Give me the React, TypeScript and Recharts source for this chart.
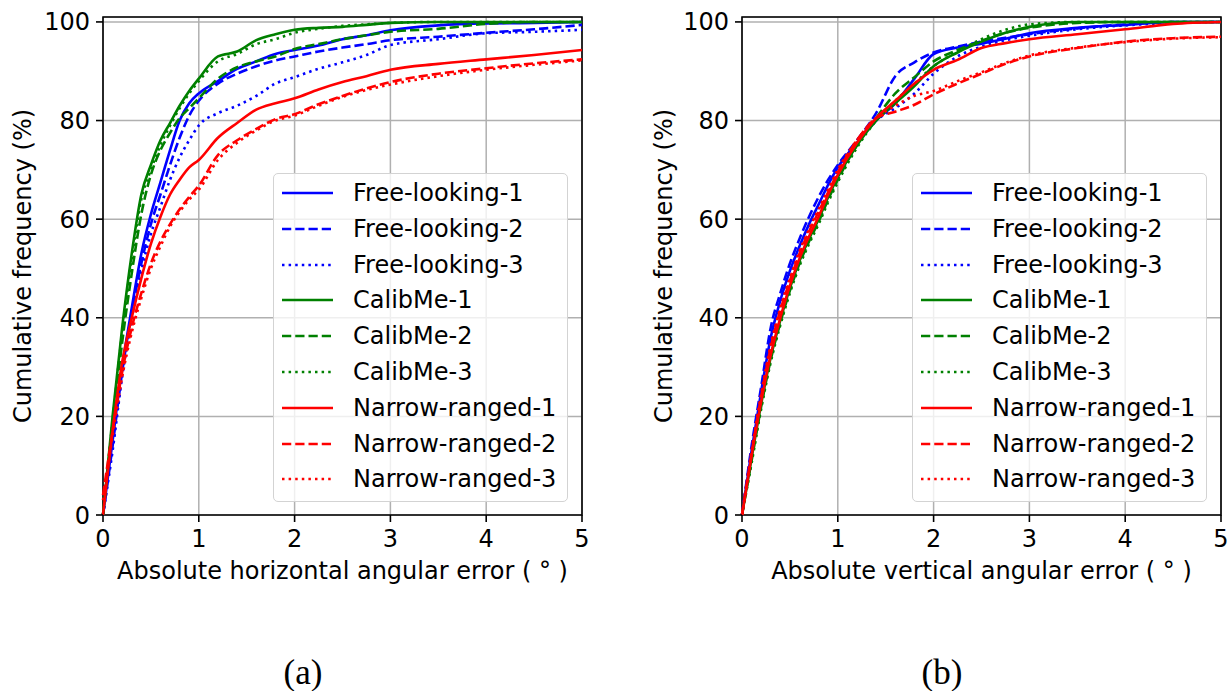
import React from 'react';
import { CartesianGrid, Line, LineChart, ReferenceArea, XAxis, YAxis } from 'recharts';

const FONT = '"DejaVu Sans", sans-serif';

// error sample points (degrees)
const ERR_X = [0, 0.1, 0.2, 0.3, 0.4, 0.5, 0.6, 0.7, 0.8, 0.9, 1.0, 1.2, 1.4, 1.6, 1.8, 2.0, 2.25, 2.5, 2.75, 3.0, 3.5, 4.0, 4.5, 5.0];
const X_TICKS = [0, 1, 2, 3, 4, 5];
const Y_TICKS = [0, 20, 40, 60, 80, 100];

// (a) horizontal error, cumulative %
const H_FREE_1 = [0, 15, 30, 42, 53, 61, 67.5, 74, 80, 83.5, 85.5, 88, 90.5, 92, 93.5, 94.3, 95.2, 96.5, 97.3, 98.3, 99.3, 99.7, 99.8, 100];
const H_FREE_2 = [0, 14, 29, 41, 51, 59, 65, 71, 76.5, 81, 84, 87.5, 89.5, 91, 92.2, 93, 94, 94.8, 95.5, 96.3, 97, 97.8, 98.5, 99.4];
const H_FREE_3 = [0, 13, 28, 40, 49.5, 57, 62.5, 68, 72.5, 76, 79, 81.5, 83, 85, 87.5, 88.8, 90.5, 91.8, 93.3, 95.3, 96.5, 97.7, 98, 98.4];
const H_CAL_1 = [0, 20, 38, 53, 65, 71, 76, 79.5, 83, 86, 88.5, 93, 94, 96.3, 97.5, 98.4, 98.8, 99, 99.4, 99.8, 100, 100, 100, 100];
const H_CAL_2 = [0, 18, 35, 49, 61, 69, 74, 77.5, 80.5, 82.5, 84.5, 88.5, 90.8, 92, 93, 94.5, 95.5, 96.5, 97.3, 98, 98.6, 99.6, 100, 100];
const H_CAL_3 = [0, 19, 37, 52, 64, 70, 75, 79, 82.5, 85.5, 88, 92, 93.5, 95.5, 96.5, 97.8, 98.6, 99.2, 99.5, 99.8, 100, 100, 100, 100];
const H_NAR_1 = [0, 17, 31, 40, 48, 55, 60.5, 65, 68, 70.5, 72, 76.5, 79.5, 82.2, 83.5, 84.5, 86.3, 87.8, 89, 90.3, 91.5, 92.4, 93.3, 94.3];
const H_NAR_2 = [4, 17, 29, 38, 45, 51, 55.5, 59, 62, 64.5, 66.8, 73, 76, 78.3, 80.3, 81.3, 83.3, 85, 86.5, 87.8, 89.5, 90.6, 91.6, 92.4];
const H_NAR_3 = [3, 16, 28, 37, 44, 50, 54.5, 58.5, 61.5, 64, 66, 72, 75.5, 78, 80, 81, 83, 84.8, 86.2, 87.3, 89, 90.3, 91.3, 92.2];

// (b) vertical error, cumulative %
const V_FREE_1 = [0, 13, 25, 36, 43.5, 49.5, 54.5, 59, 63, 67, 70.5, 75.5, 80, 83.5, 88.5, 93.5, 94.8, 95.6, 96.6, 97.7, 98.8, 99.4, 100, 100];
const V_FREE_2 = [0, 14, 26, 38, 45, 51, 56, 60.5, 64.5, 68, 71, 76, 81.5, 89, 91.8, 93.8, 95, 96, 96.8, 97.5, 98.7, 99.5, 100, 100];
const V_FREE_3 = [0, 13, 24.5, 35.5, 43, 49, 54, 58.5, 62.5, 66.5, 70, 75.5, 80, 82.5, 85.5, 89.5, 93, 95, 96.3, 97.2, 98.5, 99.3, 99.8, 100];
const V_CAL_1 = [0, 11.5, 22.5, 32, 39.5, 46, 51.5, 56, 60, 64.5, 68.5, 75, 80, 83.5, 87, 91, 93.8, 96, 97.8, 99, 100, 100, 100, 100];
const V_CAL_2 = [0, 11, 22, 31.5, 39, 45.5, 51, 55.5, 59.5, 64, 68, 75, 80.5, 85.5, 88.8, 92, 94.3, 96.2, 97.8, 98.8, 99.8, 100, 100, 100];
const V_CAL_3 = [0, 10.5, 21.5, 31, 38.5, 45, 50.5, 55, 59, 63.5, 67.5, 74.5, 80, 84, 87.5, 91, 94, 96.5, 98.4, 99.5, 100, 100, 100, 100];
const V_NAR_1 = [0, 12, 23, 32.5, 40, 46.5, 52, 56.5, 60.5, 65, 69, 75.5, 80.5, 84, 87.5, 90.3, 92.3, 94.7, 95.7, 96.5, 97.5, 98.5, 99.6, 100];
const V_NAR_2 = [0, 12.5, 24, 34, 41.5, 47.5, 53, 57.5, 61.5, 65.5, 69.5, 76, 80.5, 81.8, 83.2, 85.3, 87.5, 89.5, 91.5, 93, 94.7, 96, 96.7, 97];
const V_NAR_3 = [0, 13, 24.5, 34.5, 42, 48, 53.5, 58, 62, 66, 70, 76, 80.5, 83, 85, 86, 88, 89.8, 91.7, 93.2, 94.8, 95.9, 96.6, 96.9];

const DASHED = '9.25 4';
const DOTTED = '2.5 4.1';

const SERIES = [
  { key: 'free1', name: 'Free-looking-1', color: '#0000ff', dash: undefined },
  { key: 'free2', name: 'Free-looking-2', color: '#0000ff', dash: DASHED },
  { key: 'free3', name: 'Free-looking-3', color: '#0000ff', dash: DOTTED },
  { key: 'cal1', name: 'CalibMe-1', color: '#008000', dash: undefined },
  { key: 'cal2', name: 'CalibMe-2', color: '#008000', dash: DASHED },
  { key: 'cal3', name: 'CalibMe-3', color: '#008000', dash: DOTTED },
  { key: 'nar1', name: 'Narrow-ranged-1', color: '#ff0000', dash: undefined },
  { key: 'nar2', name: 'Narrow-ranged-2', color: '#ff0000', dash: DASHED },
  { key: 'nar3', name: 'Narrow-ranged-3', color: '#ff0000', dash: DOTTED },
];

const H_COLS = [H_FREE_1, H_FREE_2, H_FREE_3, H_CAL_1, H_CAL_2, H_CAL_3, H_NAR_1, H_NAR_2, H_NAR_3];
const V_COLS = [V_FREE_1, V_FREE_2, V_FREE_3, V_CAL_1, V_CAL_2, V_CAL_3, V_NAR_1, V_NAR_2, V_NAR_3];

function buildRows(cols: number[][]) {
  return ERR_X.map((x, i) => {
    const row: Record<string, number> = { x };
    SERIES.forEach((s, j) => {
      row[s.key] = cols[j][i];
    });
    return row;
  });
}

const H_ROWS = buildRows(H_COLS);
const V_ROWS = buildRows(V_COLS);

const PLOT_W = 479;
const CHART_W = 600;
const CHART_H = 600;
const tickStyle = { fill: '#000', fontSize: 24, fontFamily: FONT };

function LegendBox({ left }: { left: number }) {
  return (
    <div
      style={{
        position: 'absolute',
        left,
        top: 173,
        width: 295,
        height: 329,
        boxSizing: 'border-box',
        border: '1.3px solid #d3d3d3',
        borderRadius: 5,
        background: 'rgba(255,255,255,0.8)',
        fontFamily: FONT,
        fontSize: 24,
        color: '#000',
      }}
    >
      {SERIES.map((s, i) => (
        <div key={s.key} style={{ position: 'absolute', left: 0, top: 1 + i * 35.8, height: 36, display: 'flex', alignItems: 'center', whiteSpace: 'nowrap' }}>
          <svg width={79} height={36}>
            <line x1={8} x2={59} y1={18} y2={18} stroke={s.color} strokeWidth={2.6} strokeDasharray={s.dash} />
          </svg>
          <span>{s.name}</span>
        </div>
      ))}
    </div>
  );
}

function Panel({ rows, xLabel, left, axisWidth, labelOffset }: { rows: Record<string, number>[]; xLabel: string; left: number; axisWidth: number; labelOffset: number }) {
  return (
    <div style={{ position: 'absolute', left, top: 0, width: CHART_W, height: CHART_H }}>
      <LineChart
        width={CHART_W}
        height={CHART_H}
        data={rows}
        margin={{ top: 17, right: CHART_W - axisWidth - PLOT_W, bottom: 45, left: 0 }}
        style={{ fontFamily: FONT }}
      >
        <CartesianGrid stroke="#b0b0b0" strokeWidth={1.5} />
        <XAxis
          dataKey="x"
          type="number"
          domain={[0, 5]}
          ticks={X_TICKS}
          interval={0}
          tick={tickStyle}
          tickSize={7}
          tickMargin={8}
          tickLine={{ stroke: '#000', strokeWidth: 1.6 }}
          axisLine={false}
          height={40}
          label={{ value: xLabel, position: 'bottom', offset: 7, fill: '#000', fontSize: 24, fontFamily: FONT }}
        />
        <YAxis
          type="number"
          domain={[0, 101]}
          ticks={Y_TICKS}
          interval={0}
          width={axisWidth}
          tick={tickStyle}
          tickSize={7}
          tickMargin={6}
          tickLine={{ stroke: '#000', strokeWidth: 1.6 }}
          axisLine={false}
          label={{
            value: 'Cumulative frequency (%)',
            angle: -90,
            position: 'insideLeft',
            offset: labelOffset,
            fill: '#000',
            fontSize: 24,
            fontFamily: FONT,
            style: { textAnchor: 'middle' },
          }}
        />
        {SERIES.map((s) => (
          <Line
            key={s.key}
            dataKey={s.key}
            type="monotone"
            stroke={s.color}
            strokeWidth={2.6}
            strokeDasharray={s.dash}
            dot={false}
            activeDot={false}
            isAnimationActive={false}
          />
        ))}
        <ReferenceArea x1={0} x2={5} y1={0} y2={101} fill="none" fillOpacity={0} stroke="#000" strokeWidth={1.6} />
      </LineChart>
      <LegendBox left={axisWidth + 170} />
    </div>
  );
}

const captionStyle: React.CSSProperties = {
  position: 'absolute',
  top: 655,
  width: 100,
  textAlign: 'center',
  fontFamily: '"Liberation Serif", serif',
  fontSize: 35,
  lineHeight: '36px',
  color: '#000',
};

export default function App() {
  return (
    <div style={{ position: 'absolute', left: 0, top: 0, width: 1231, height: 691, background: '#fff' }}>
      <Panel rows={H_ROWS} xLabel="Absolute horizontal angular error ( ° )" left={0} axisWidth={103} labelOffset={22} />
      <Panel rows={V_ROWS} xLabel="Absolute vertical angular error ( ° )" left={630} axisWidth={112} labelOffset={33} />
      <div style={{ ...captionStyle, left: 303 - 50 }}>(a)</div>
      <div style={{ ...captionStyle, left: 942 - 50 }}>(b)</div>
    </div>
  );
}
